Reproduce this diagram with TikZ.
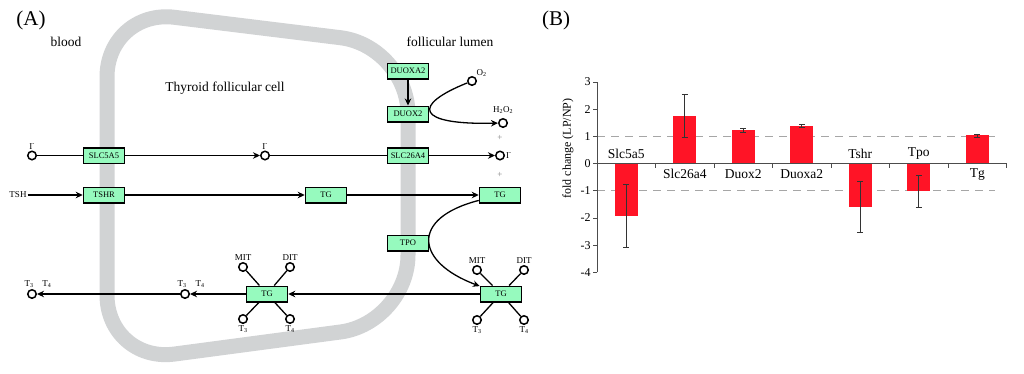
\documentclass[tikz,border=0pt]{standalone}
\usepackage{fontspec}
\setmainfont{Liberation Serif}
\usepackage{tikz}
\usetikzlibrary{arrows.meta}
\definecolor{protgreen}{RGB}{150,250,190}
\definecolor{cellgray}{RGB}{209,211,212}
\definecolor{barred}{RGB}{255,20,38}

\begin{document}
\begin{tikzpicture}[
        x=1pt,y=-1pt,
        protein/.style={draw,line width=1.5pt,fill=protgreen,minimum width=41pt,minimum height=15.5pt,inner sep=0pt,font=\fontsize{8.5}{9}\selectfont},
        mol/.style={draw,circle,line width=1.5pt,fill=white,minimum size=8.5pt,inner sep=0pt},
        lbl/.style={font=\fontsize{9}{10}\selectfont,inner sep=1pt},
        region/.style={font=\fontsize{13.5}{15}\selectfont},
        panel/.style={font=\fontsize{21}{24}\selectfont},
        link/.style={-{Stealth[length=7pt,width=6.5pt]},line width=1.3pt},
        bond/.style={line width=1.3pt},
        axis/.style={line width=0.8pt,black!70},
        refline/.style={gray!70,line width=0.9pt,dash pattern=on 8pt off 6pt},
        errbar/.style={line width=0.8pt,black!80},
        genelbl/.style={font=\fontsize{13.5}{15}\selectfont},
        ticklbl/.style={font=\fontsize{12}{14}\selectfont,inner sep=2pt}
    ]
        \useasboundingbox (0,0) rectangle (1024,373);

        \draw[cellgray,line width=15pt,rounded corners=68pt] (107,200) -- (107,9) -- (408,46) -- (408,323) -- (107,363) -- cycle;

        \node[panel] (pA) at (31,20) {(A)};
        \node[panel] (pB) at (556,20) {(B)};
        \node[region] (blood) at (66,42) {blood};
        \node[region] (lumen) at (450,42) {follicular lumen};
        \node[region] (cell) at (225,88) {Thyroid follicular cell};

        \node[protein] (duoxa2) at (408,71) {DUOXA2};
        \node[protein] (duox2) at (408,114) {DUOX2};
        \node[protein] (slc5a5) at (104,155.5) {SLC5A5};
        \node[protein] (slc26a4) at (408,155.5) {SLC26A4};
        \node[protein] (tshr) at (104,195) {TSHR};
        \node[protein] (tgSyn) at (326,195) {TG};
        \node[protein] (tgLumen) at (500,195) {TG};
        \node[protein] (tpo) at (408,243) {TPO};
        \node[protein] (tgIod) at (501,294) {TG};
        \node[protein] (tgCell) at (267,294) {TG};

        \node[mol,label={[lbl]above:I\textsuperscript{-}}] (iBlood) at (32,155.5) {};
        \node[mol,label={[lbl]above:I\textsuperscript{-}}] (iCell) at (265,155.5) {};
        \node[mol,label={[lbl]right:I\textsuperscript{-}}] (iLumen) at (500,155.5) {};
        \node[mol,label={[lbl]above right:O\textsubscript{2}}] (o2) at (472,81) {};
        \node[mol,label={[lbl,yshift=3pt]above:H\textsubscript{2}O\textsubscript{2}}] (h2o2) at (503,123) {};
        \node[lbl,gray] (plus1) at (500,138) {+};
        \node[lbl,gray] (plus2) at (500,175) {+};
        \node[lbl] (tsh) at (18,195) {TSH};

        \node[mol,label={[lbl,xshift=6pt]above:T\textsubscript{3}\quad T\textsubscript{4}}] (t34Blood) at (32,294) {};
        \node[mol,label={[lbl,xshift=6pt]above:T\textsubscript{3}\quad T\textsubscript{4}}] (t34Cell) at (185,294) {};
        \node[mol,label={[lbl]above:MIT}] (mitC) at (243,267) {};
        \node[mol,label={[lbl]above:DIT}] (ditC) at (290,267) {};
        \node[mol,label={[lbl]below:T\textsubscript{3}}] (t3C) at (243,319) {};
        \node[mol,label={[lbl]below:T\textsubscript{4}}] (t4C) at (290,319) {};
        \node[mol,label={[lbl]above:MIT}] (mitL) at (477,270) {};
        \node[mol,label={[lbl]above:DIT}] (ditL) at (524,270) {};
        \node[mol,label={[lbl]below:T\textsubscript{3}}] (t3L) at (477,320) {};
        \node[mol,label={[lbl]below:T\textsubscript{4}}] (t4L) at (524,320) {};

        \draw[bond] (iBlood) -- (slc5a5);
        \draw[link] (slc5a5) -- (iCell);
        \draw[bond] (iCell) -- (slc26a4);
        \draw[link] (slc26a4) -- (iLumen);
        \draw[link] (duoxa2) -- (duox2);
        \draw[link] (o2) .. controls (412,105) and (415,125) .. (h2o2);
        \draw[link] (tsh) -- (tshr);
        \draw[link] (tshr) -- (tgSyn);
        \draw[link] (tgSyn) -- (tgLumen);
        \draw[link] (tgLumen) .. controls (410,218) and (415,262) .. (tgIod);
        \draw[link] (tgIod) -- (tgCell);
        \draw[link] (tgCell) -- (t34Cell);
        \draw[link] (t34Cell) -- (t34Blood);
        \foreach \m in {mitC,ditC,t3C,t4C}
            \draw[bond] (\m) -- (tgCell);
        \foreach \m in {mitL,ditL,t3L,t4L}
            \draw[bond] (\m) -- (tgIod);

        \node[ticklbl,rotate=90] (ylab) at (568,148.5) {fold change (LP/NP)};

        \begin{scope}[shift={(597,163.5)},y=27.2pt]
            \draw[refline] (0,1) -- (398,1);
            \draw[refline] (0,-1) -- (398,-1);
            \foreach \i/\gene/\val/\lo/\hi/\ly in {1/Slc5a5/-1.93/-3.09/-0.77/0.36,2/Slc26a4/1.76/0.95/2.55/-0.39,3/Duox2/1.23/1.14/1.29/-0.39,4/Duoxa2/1.38/1.32/1.44/-0.39,5/Tshr/-1.59/-2.54/-0.67/0.36,6/Tpo/-1.0/-1.62/-0.45/0.36,7/Tg/1.03/0.97/1.06/-0.39}{
                \pgfmathsetmacro\xc{(\i-0.5)*58.5}
                \fill[barred] (\xc-11.5,0) rectangle (\xc+11.5,\val);
                \draw[errbar] (\xc,\lo) -- (\xc,\hi);
                \draw[errbar] (\xc-3,\lo) -- (\xc+3,\lo);
                \draw[errbar] (\xc-3,\hi) -- (\xc+3,\hi);
                \node[genelbl] (g\i) at (\xc,\ly) {\gene};
            }
            \draw[axis] (0,-4) -- (0,3);
            \draw[axis] (0,0) -- (409.5,0);
            \foreach \v in {-4,...,3}
                \draw[axis] (0,\v) -- (-4,\v) node[left,ticklbl,black] {\v};
            \foreach \k in {1,...,7}
                \draw[axis] ({\k*58.5},0) -- ({\k*58.5},-0.15);
        \end{scope}
    \end{tikzpicture}
\end{document}
